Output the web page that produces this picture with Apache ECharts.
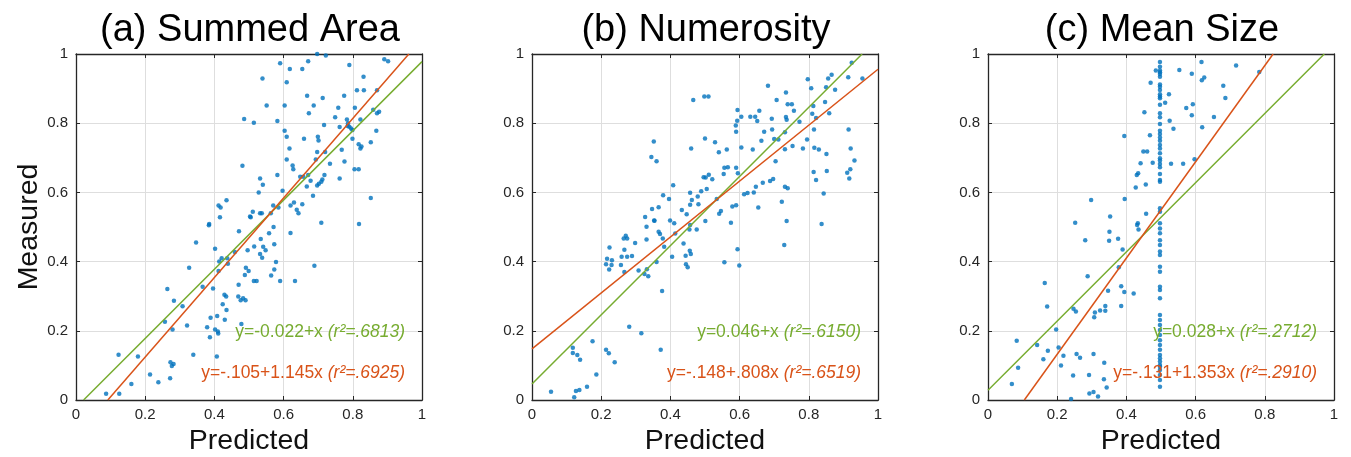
<!DOCTYPE html>
<html>
<head>
<meta charset="utf-8">
<script src="https://cdn.jsdelivr.net/npm/echarts@6/dist/echarts.min.js"></script>
<style>
  html, body { margin: 0; background: #fff; }
  #chart { width: 1351px; height: 457px; }
</style>
</head>
<body>
<div id="chart"></div>
<script>
// panel titles and shared ticks
const TITLES = ['(a) Summed Area', '(b) Numerosity', '(c) Mean Size'];
const TICKS = [0, 0.2, 0.4, 0.6, 0.8, 1];

// (a) summed area: [predicted, measured]
const areaPoints = [
  [0.486,0.812],[0.481,0.677],[0.435,0.577],[0.412,0.562],[0.418,0.556],[0.416,0.528],[0.385,0.509],[0.503,0.530],
  [0.697,1.0],[0.722,0.996],[0.590,0.973],[0.671,0.979],[0.618,0.957],[0.654,0.957],[0.790,0.968],[0.891,0.985],[0.902,0.979],
  [0.539,0.929],[0.609,0.918],[0.831,0.934],[0.812,0.895],[0.832,0.895],[0.870,0.895],[0.668,0.879],[0.713,0.873],[0.775,0.879],
  [0.551,0.851],[0.603,0.851],[0.687,0.851],[0.758,0.845],[0.806,0.845],[0.859,0.839],[0.876,0.833],[0.870,0.829],[0.673,0.829],[0.749,0.817],
  [0.514,0.801],[0.582,0.806],[0.783,0.811],[0.786,0.800],[0.785,0.792],[0.790,0.790],[0.795,0.785],[0.799,0.780],[0.822,0.811],[0.717,0.795],[0.762,0.789],[0.868,0.778],
  [0.603,0.778],[0.609,0.761],[0.659,0.755],[0.699,0.761],[0.701,0.750],[0.799,0.755],[0.852,0.745],[0.817,0.739],[0.825,0.733],[0.822,0.727],[0.617,0.727],[0.768,0.723],[0.697,0.717],[0.720,0.717],
  [0.609,0.695],[0.693,0.695],[0.776,0.689],[0.734,0.683],[0.626,0.678],[0.628,0.667],[0.805,0.667],[0.817,0.667],
  [0.582,0.650],[0.648,0.645],[0.657,0.645],[0.671,0.650],[0.718,0.650],[0.712,0.637],[0.709,0.631],[0.702,0.625],[0.697,0.620],[0.678,0.634],[0.762,0.640],[0.532,0.640],[0.540,0.622],[0.667,0.617],[0.685,0.590],[0.597,0.605],[0.528,0.600],[0.852,0.584],
  [0.630,0.571],[0.620,0.562],[0.654,0.566],[0.570,0.562],[0.585,0.556],[0.638,0.550],[0.643,0.540],[0.511,0.544],[0.532,0.540],[0.537,0.540],[0.505,0.528],[0.563,0.540],[0.709,0.512],[0.818,0.509],
  [0.384,0.505],[0.471,0.488],[0.347,0.455],[0.402,0.437],[0.421,0.410],[0.437,0.410],[0.414,0.400],[0.439,0.394],[0.459,0.428],[0.496,0.433],[0.327,0.382],[0.412,0.373],[0.491,0.382],[0.499,0.373],[0.488,0.361],
  [0.470,0.333],[0.366,0.327],[0.396,0.322],[0.264,0.321],[0.429,0.304],[0.434,0.299],[0.469,0.299],[0.476,0.288],[0.483,0.294],[0.490,0.288],[0.283,0.287],[0.424,0.277],[0.435,0.260],[0.308,0.271],
  [0.389,0.238],[0.408,0.243],[0.430,0.232],[0.478,0.220],[0.257,0.226],[0.321,0.215],[0.279,0.204],[0.379,0.210],[0.402,0.204],[0.410,0.198],[0.411,0.192],[0.387,0.181],
  [0.123,0.131],[0.179,0.126],[0.339,0.131],[0.407,0.126],[0.273,0.109],[0.282,0.104],[0.277,0.098],[0.214,0.074],[0.160,0.046],[0.238,0.051],[0.272,0.063],[0.087,0.018],[0.125,0.018],
  [0.571,0.500],[0.558,0.482],[0.620,0.483],[0.534,0.465],[0.515,0.444],[0.541,0.443],[0.548,0.433],[0.532,0.422],[0.538,0.411],[0.573,0.450],
  [0.578,0.399],[0.689,0.388],[0.573,0.377],[0.564,0.360],[0.514,0.344],[0.522,0.344],[0.590,0.344],[0.633,0.344]
];

// (b) numerosity: [predicted, measured]
const numerosityPoints = [
  [0.466,0.867],[0.352,0.747],[0.460,0.727],[0.345,0.702],[0.360,0.690],[0.408,0.621],[0.379,0.592],[0.396,0.581],[0.457,0.599],[0.462,0.578],[0.479,0.588],
  [0.347,0.552],[0.366,0.557],[0.433,0.549],[0.447,0.537],[0.457,0.564],[0.481,0.566],[0.327,0.529],[0.353,0.519],[0.399,0.519],[0.411,0.511],
  [0.924,0.975],[0.866,0.940],[0.856,0.929],[0.914,0.933],[0.955,0.929],[0.797,0.927],[0.682,0.908],[0.807,0.901],[0.850,0.904],[0.876,0.897],
  [0.498,0.877],[0.510,0.877],[0.734,0.889],[0.707,0.867],[0.847,0.861],[0.739,0.855],[0.751,0.855],[0.813,0.850],[0.594,0.838],[0.657,0.836],[0.757,0.836],
  [0.859,0.829],[0.810,0.827],[0.605,0.819],[0.631,0.819],[0.645,0.819],[0.693,0.813],[0.734,0.818],[0.736,0.810],[0.821,0.815],[0.593,0.807],[0.651,0.806],[0.773,0.804],
  [0.589,0.793],[0.590,0.775],[0.915,0.782],[0.815,0.782],[0.671,0.775],[0.694,0.782],[0.731,0.774],[0.500,0.756],[0.700,0.754],[0.712,0.753],[0.663,0.749],[0.795,0.753],
  [0.529,0.745],[0.605,0.730],[0.638,0.724],[0.563,0.724],[0.540,0.716],[0.731,0.725],[0.753,0.734],[0.783,0.727],[0.816,0.729],[0.829,0.724],[0.851,0.711],[0.921,0.727],
  [0.932,0.692],[0.920,0.667],[0.911,0.657],[0.917,0.640],[0.704,0.690],[0.556,0.671],[0.566,0.673],[0.590,0.671],[0.595,0.655],[0.554,0.653],[0.814,0.659],[0.852,0.662],[0.821,0.636],
  [0.496,0.644],[0.502,0.643],[0.521,0.638],[0.511,0.651],[0.688,0.633],[0.697,0.639],[0.667,0.628],[0.647,0.616],[0.641,0.600],[0.623,0.598],[0.613,0.595],[0.731,0.616],[0.739,0.612],
  [0.843,0.597],[0.505,0.610],[0.489,0.603],[0.722,0.573],[0.534,0.581],[0.590,0.563],[0.579,0.559],[0.654,0.556],[0.546,0.546],[0.541,0.538],[0.501,0.517],[0.575,0.512],[0.736,0.517],[0.837,0.509],
  [0.354,0.518],[0.331,0.501],[0.366,0.486],[0.370,0.480],[0.378,0.467],[0.331,0.464],[0.298,0.454],[0.271,0.475],[0.275,0.467],[0.265,0.467],[0.224,0.441],[0.267,0.434],[0.382,0.443],
  [0.414,0.481],[0.438,0.452],[0.457,0.506],[0.476,0.493],[0.455,0.493],[0.259,0.414],[0.275,0.414],[0.289,0.416],[0.217,0.408],[0.231,0.404],[0.214,0.392],[0.223,0.377],[0.230,0.390],
  [0.257,0.390],[0.267,0.370],[0.308,0.374],[0.325,0.364],[0.336,0.358],[0.332,0.378],[0.360,0.399],[0.405,0.414],[0.444,0.417],[0.445,0.392],[0.450,0.384],[0.456,0.431],[0.459,0.422],
  [0.376,0.315],[0.281,0.212],[0.316,0.193],[0.372,0.145],[0.175,0.170],[0.118,0.151],[0.118,0.136],[0.131,0.130],[0.139,0.116],[0.214,0.145],[0.222,0.135],[0.239,0.109],
  [0.186,0.074],[0.159,0.038],[0.127,0.026],[0.137,0.029],[0.055,0.024],[0.122,0.008],
  [0.594,0.436],[0.729,0.448],[0.556,0.398],[0.599,0.389]
];

// (c) mean size: scattered points plus the dense column at predicted = 0.5
const sizePoints = [
  [0.485,0.952],[0.470,0.917],[0.452,0.832],[0.394,0.763],[0.468,0.765],[0.449,0.718],[0.460,0.718],[0.441,0.684],[0.476,0.686],[0.434,0.655],[0.430,0.650],
  [0.456,0.623],[0.427,0.614],[0.298,0.578],[0.395,0.581],[0.353,0.530],[0.457,0.538],[0.252,0.512],[0.433,0.511],
  [0.617,0.977],[0.717,0.967],[0.553,0.954],[0.589,0.943],[0.625,0.932],[0.618,0.924],[0.784,0.948],[0.680,0.908],[0.523,0.884],[0.686,0.873],[0.512,0.859],
  [0.592,0.855],[0.573,0.844],[0.589,0.823],[0.653,0.818],[0.525,0.807],[0.536,0.784],[0.619,0.788],[0.597,0.696],[0.529,0.683],[0.564,0.683],
  [0.431,0.506],[0.435,0.493],[0.281,0.462],[0.351,0.486],[0.350,0.460],[0.376,0.466],[0.389,0.435],[0.378,0.384],[0.288,0.358],[0.164,0.338],
  [0.347,0.316],[0.385,0.329],[0.394,0.312],[0.421,0.308],[0.171,0.270],[0.247,0.264],[0.254,0.256],[0.309,0.253],[0.324,0.259],[0.339,0.272],[0.339,0.258],[0.307,0.239],[0.385,0.272],
  [0.197,0.204],[0.083,0.171],[0.142,0.159],[0.204,0.152],[0.173,0.142],[0.160,0.118],[0.218,0.128],[0.256,0.133],[0.266,0.122],[0.305,0.133],[0.211,0.100],[0.087,0.093],
  [0.336,0.108],[0.335,0.060],[0.343,0.036],[0.246,0.071],[0.292,0.072],[0.069,0.046],[0.293,0.019],[0.305,0.023],[0.318,0.010],[0.240,0.003]
];
const sizeColumnX = 0.497;
const sizeColumnY = [
  0.977,0.963,0.952,0.947,0.942,0.934,0.912,0.905,0.896,0.884,0.877,0.872,0.853,0.829,0.817,0.798,0.778,0.769,0.759,0.749,
  0.737,0.727,0.713,0.699,0.692,0.682,0.673,0.653,0.636,0.631,0.554,0.544,0.511,0.496,0.482,0.462,0.448,0.429,0.419,0.385,
  0.371,0.327,0.318,0.294,0.246,0.231,0.217,0.202,0.188,0.173,0.159,0.145,0.130,0.121,0.111,0.101,0.096,0.087,0.072,0.058,0.038
];

// fit lines, end points
const greenLines = [[[0.022, 0], [1, 0.978]], [[0, 0.046], [0.954, 1]], [[0, 0.028], [0.972, 1]]];
const orangeLines = [[[0.092, 0], [0.962, 1]], [[0, 0.148], [1, 0.956]], [[0.105, 0], [0.824, 1]]];

// equation labels
const greenEq = ['y=-0.022+x', 'y=0.046+x', 'y=0.028+x'];
const greenR2 = ['(r²=.6813)', '(r²=.6150)', '(r²=.2712)'];
const orangeEq = ['y=-.105+1.145x', 'y=-.148+.808x', 'y=-.131+1.353x'];
const orangeR2 = ['(r²=.6925)', '(r²=.6519)', '(r²=.2910)'];

const BLUE = '#0072BD';
const ORANGE = '#D95319';
const GREEN = '#77AC30';
const AXIS = '#262626';
const FONT = 'Liberation Sans, Arial, sans-serif';

const LEFTS = [76, 532, 988];
const TOP = 54;
const SIZE = 346;

const chart = echarts.init(document.getElementById('chart'), null, { renderer: 'canvas' });

const sizeAll = sizePoints.concat(sizeColumnY.map(y => [sizeColumnX, y]));
const panelPoints = [areaPoints, numerosityPoints, sizeAll];

const grids = [], xAxes = [], yAxes = [], series = [], titles = [];

function eqLabel(eq, r2, color) {
  return {
    show: true,
    position: 'left',
    distance: 0,
    formatter: `{n|${eq} }{i|${r2}}`,
    rich: {
      n: { color, fontSize: 17.5, fontFamily: FONT },
      i: { color, fontSize: 17.5, fontFamily: FONT, fontStyle: 'italic' }
    }
  };
}

LEFTS.forEach((left, i) => {
  grids.push({ left, top: TOP, width: SIZE, height: SIZE, outerBoundsMode: 'none', containLabel: false });
  titles.push({
    text: TITLES[i],
    left: left + SIZE / 2 - 4,
    top: 7,
    textAlign: 'center',
    textStyle: { fontSize: 38, fontWeight: 'normal', color: '#000', fontFamily: FONT }
  });

  const common = {
    type: 'value', min: 0, max: 1, interval: 0.2, gridIndex: i,
    axisLine: { show: true, onZero: false, lineStyle: { color: AXIS, width: 1.3 } },
    axisTick: { show: true, inside: true, length: 4, lineStyle: { color: AXIS } }
  };
  xAxes.push(Object.assign({}, common, {
    position: 'bottom',
    name: 'Predicted', nameLocation: 'middle', nameGap: 26,
    nameTextStyle: { fontSize: 28.5, color: '#111', fontFamily: FONT },
    axisLabel: { fontSize: 15, color: AXIS, margin: 7, fontFamily: FONT },
    splitLine: { show: true, lineStyle: { color: '#dedede', width: 1 } }
  }));
  xAxes.push(Object.assign({}, common, {
    position: 'top', axisLabel: { show: false }, splitLine: { show: false }
  }));
  yAxes.push(Object.assign({}, common, {
    position: 'left',
    name: i === 0 ? 'Measured' : '', nameLocation: 'middle', nameGap: 31,
    nameTextStyle: { fontSize: 28.5, color: '#111', fontFamily: FONT },
    axisLabel: { fontSize: 15, color: AXIS, margin: 8, fontFamily: FONT },
    splitLine: { show: true, lineStyle: { color: '#dedede', width: 1 } }
  }));
  yAxes.push(Object.assign({}, common, {
    position: 'right', axisLabel: { show: false }, splitLine: { show: false }
  }));

  series.push({
    type: 'scatter', xAxisIndex: i * 2, yAxisIndex: i * 2,
    data: panelPoints[i], symbolSize: 4.5,
    itemStyle: { color: BLUE }, silent: true, z: 2
  });
  series.push({
    type: 'line', xAxisIndex: i * 2, yAxisIndex: i * 2,
    data: greenLines[i], symbol: 'none', silent: true, z: 3,
    lineStyle: { color: GREEN, width: 1.5 },
    markPoint: {
      symbolSize: 0, silent: true,
      data: [{ coord: [0.951, 0.197] }],
      label: eqLabel(greenEq[i], greenR2[i], GREEN)
    }
  });
  series.push({
    type: 'line', xAxisIndex: i * 2, yAxisIndex: i * 2,
    data: orangeLines[i], symbol: 'none', silent: true, z: 3,
    lineStyle: { color: ORANGE, width: 1.5 },
    markPoint: {
      symbolSize: 0, silent: true,
      data: [{ coord: [0.951, 0.077] }],
      label: eqLabel(orangeEq[i], orangeR2[i], ORANGE)
    }
  });
});

chart.setOption({
  animation: false,
  backgroundColor: '#fff',
  title: titles,
  grid: grids,
  xAxis: xAxes,
  yAxis: yAxes,
  series
});
</script>
</body>
</html>
